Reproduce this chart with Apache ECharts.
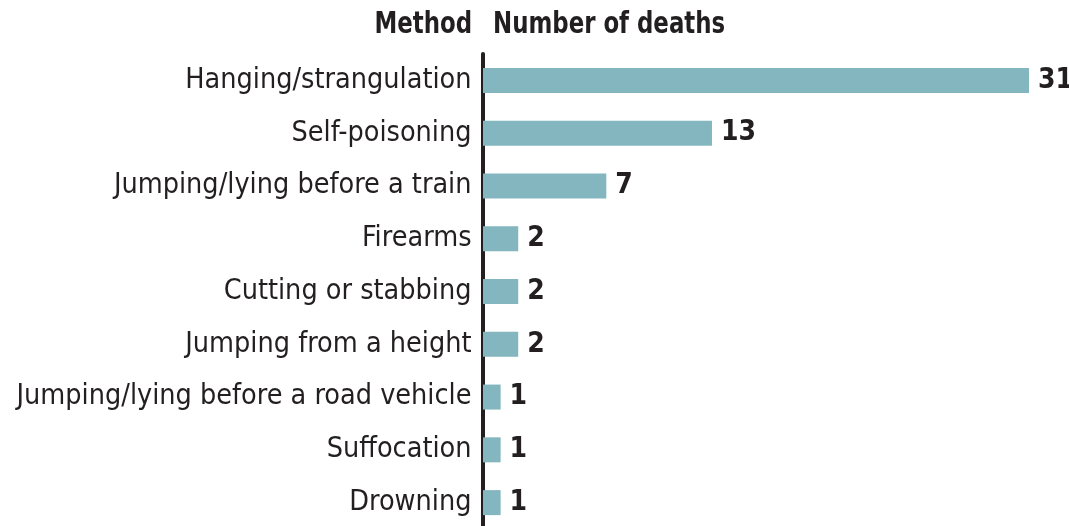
<!DOCTYPE html>
<html>
<head>
<meta charset="utf-8">
<title>Suicide method</title>
<script src="https://cdn.jsdelivr.net/npm/echarts@6/dist/echarts.min.js"></script>
<style>
  html, body { margin: 0; padding: 0; background: #fff; }
  #chart { width: 1069px; height: 526px; }
</style>
</head>
<body>
<div id="chart"></div>
<script>
var methods = [
    'Hanging/strangulation',
    'Self-poisoning',
    'Jumping/lying before a train',
    'Firearms',
    'Cutting or stabbing',
    'Jumping from a height',
    'Jumping/lying before a road vehicle',
    'Suffocation',
    'Drowning'
];
var deaths = [31, 13, 7, 2, 2, 2, 1, 1, 1];

var fontName = '"DejaVu Sans Condensed", "Liberation Sans Narrow", sans-serif';
var ink = '#231f20';

var chart = echarts.init(document.getElementById('chart'));
chart.setOption({
    animation: false,
    grid: {
        left: 483,
        right: 40,
        top: 54,
        height: 475,
        outerBoundsMode: 'none'
    },
    graphic: [{
        type: 'text',
        x: 472,
        y: 9,
        scaleX: 0.82,
        style: {
            text: 'Method',
            align: 'right',
            font: 'bold 31px ' + fontName,
            fill: ink
        }
    }, {
        type: 'text',
        x: 493,
        y: 9,
        scaleX: 0.82,
        style: {
            text: 'Number of deaths',
            align: 'left',
            font: 'bold 31px ' + fontName,
            fill: ink
        }
    }],
    xAxis: {
        type: 'value',
        min: 0,
        max: 31,
        show: false
    },
    yAxis: {
        type: 'category',
        data: methods,
        inverse: true,
        offset: 2.5,
        axisLine: {
            lineStyle: { color: ink, width: 4 }
        },
        axisTick: { show: false },
        axisLabel: {
            margin: 9,
            color: ink,
            fontSize: 28.5,
            fontFamily: fontName
        }
    },
    series: [{
        name: 'Number of deaths',
        type: 'bar',
        data: deaths,
        barWidth: 25,
        itemStyle: { color: '#83b6bf' },
        label: {
            show: true,
            position: 'right',
            distance: 9,
            color: ink,
            fontSize: 28,
            fontWeight: 'bold',
            fontFamily: fontName
        }
    }]
});
</script>
</body>
</html>
